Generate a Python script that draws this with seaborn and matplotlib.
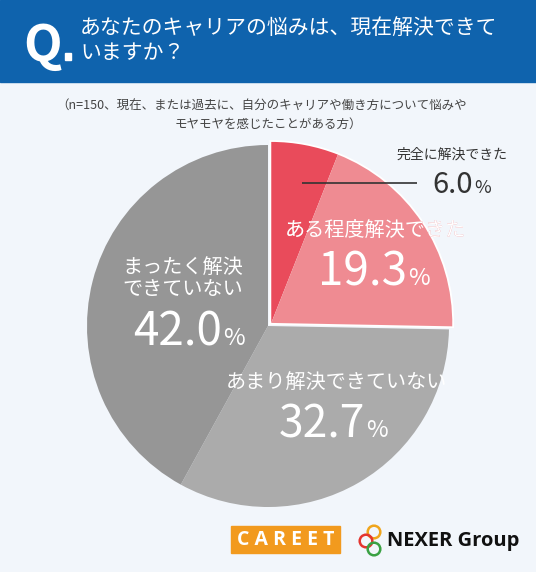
import matplotlib
matplotlib.use("Agg")
import matplotlib.pyplot as plt
import seaborn as sns
from matplotlib.patches import Rectangle, Circle

sns.set_style("white")
plt.rcParams['font.family'] = ['Noto Sans CJK JP', 'DejaVu Sans']

# ---- data ----
categories = ["完全に解決できた", "ある程度解決できた", "あまり解決できていない", "まったく解決できていない"]
values = [6.0, 19.3, 32.7, 42.0]
colors = ["#e94b5b", "#ef8b92", "#ababab", "#969696"]

title_lines = ["あなたのキャリアの悩みは、現在解決できて", "いますか？"]
note_lines = ["（n=150、現在、または過去に、自分のキャリアや働き方について悩みや",
              "モヤモヤを感じたことがある方）"]

W, H = 536, 572
fig = plt.figure(figsize=(W / 100, H / 100), dpi=100)
fig.patch.set_facecolor("#f2f6fb")

# pie axes: centre (268,326) px, radius 181 px
cx, cy, R = 268, 326, 181
ax = fig.add_axes([(cx - R) / W, (H - cy - R) / H, 2 * R / W, 2 * R / H])
ax.set_zorder(1)
off = (0.018, 0.017)

wedges, _ = ax.pie(values, colors=colors, startangle=90, counterclock=False,
                   wedgeprops=dict(linewidth=0))
for w in wedges[:2]:
    w.set_center(off)
    w.set_edgecolor("white")
    w.set_linewidth(2.6)
    w.set_zorder(2)
for w in wedges[2:]:
    w.set_zorder(1)
wedges2, _ = ax.pie(values, colors=colors, startangle=90, counterclock=False,
                    wedgeprops=dict(linewidth=0))
for i, w in enumerate(wedges2):
    if i < 2:
        w.set_center(off)
        w.set_zorder(3)
    else:
        w.set_visible(False)
ax.set_xlim(-1, 1)
ax.set_ylim(-1, 1)
ax.set_aspect("equal")
ax.axis("off")

# overlay axes in pixel coordinates
ov = fig.add_axes([0, 0, 1, 1])
ov.set_zorder(2)
ov.set_xlim(0, W)
ov.set_ylim(H, 0)
ov.axis("off")
ov.patch.set_alpha(0)

# header
ov.add_patch(Rectangle((0, 0), W, 82, color="#0f63ad", zorder=0))
ov.text(23, 61, "Q", color="white", fontsize=36, fontweight="bold", ha="left", va="baseline")
ov.add_patch(Rectangle((64.5, 53), 6.5, 7, color="white", zorder=2))
ov.text(80, 28, title_lines[0], color="white", fontsize=15, ha="left", va="center")
ov.text(80, 53, title_lines[1], color="white", fontsize=15, ha="left", va="center")

# note
ov.text(262, 106, note_lines[0], color="#444444", fontsize=9, ha="center", va="center")
ov.text(268, 124, note_lines[1], color="#444444", fontsize=9, ha="center", va="center")

clip_circle = Circle(off, 1.0, transform=ax.transData)

def pct(x_right, y_base, v, size, psize, color="white"):
    ov.text(x_right, y_base, f"{v:.1f}", color=color, fontsize=size,
            ha="right", va="baseline")
    ov.text(x_right + 1, y_base, "%", color=color, fontsize=psize,
            ha="left", va="baseline")

# 6.0 (outside)
ov.text(452, 155, categories[0], color="#333333", fontsize=10, ha="center", va="center")
pct(473, 193, values[0], 21, 13, color="#333333")
ov.plot([302, 417], [183, 183], color="#333333", lw=1.2, solid_capstyle="butt")

# 19.3: pink outside the pie, white inside
ov.text(375, 230, categories[1], color=colors[1], fontsize=14.5, ha="center", va="center")
t = ov.text(375, 230, categories[1], color="white", fontsize=14.5, ha="center", va="center",
            clip_on=True)
t.set_clip_path(clip_circle)
pct(407, 285, values[1], 33, 17)

# 42.0
ov.text(183, 267, "まったく解決", color="white", fontsize=14.5, ha="center", va="center")
ov.text(183, 289, "できていない", color="white", fontsize=14.5, ha="center", va="center")
pct(222, 345, values[3], 33, 17)

# 32.7
ov.text(336, 382, categories[2], color="white", fontsize=14.5, ha="center", va="center")
pct(365, 437, values[2], 32, 17)

# logos
ov.add_patch(Rectangle((231, 526), 109, 27, color="#f29a1e", zorder=1))
ov.text(285.5, 540, "C A R E E T", color="white", fontsize=14, fontweight="bold",
        family=["Open Sans", "DejaVu Sans"], ha="center", va="center")
for (x, y, c) in [(374, 532, "#f0a51c"), (366, 541, "#e4352f"), (374, 549, "#3aa143")]:
    ov.add_patch(Circle((x, y), 6.3, fill=False, edgecolor=c, lw=1.8, zorder=2))
ov.text(387, 541, "NEXER Group", color="#111111", fontsize=14.5, fontweight="bold",
        family=["Open Sans", "DejaVu Sans"], ha="left", va="center")

fig.savefig("out.png", dpi=100, facecolor=fig.get_facecolor())
